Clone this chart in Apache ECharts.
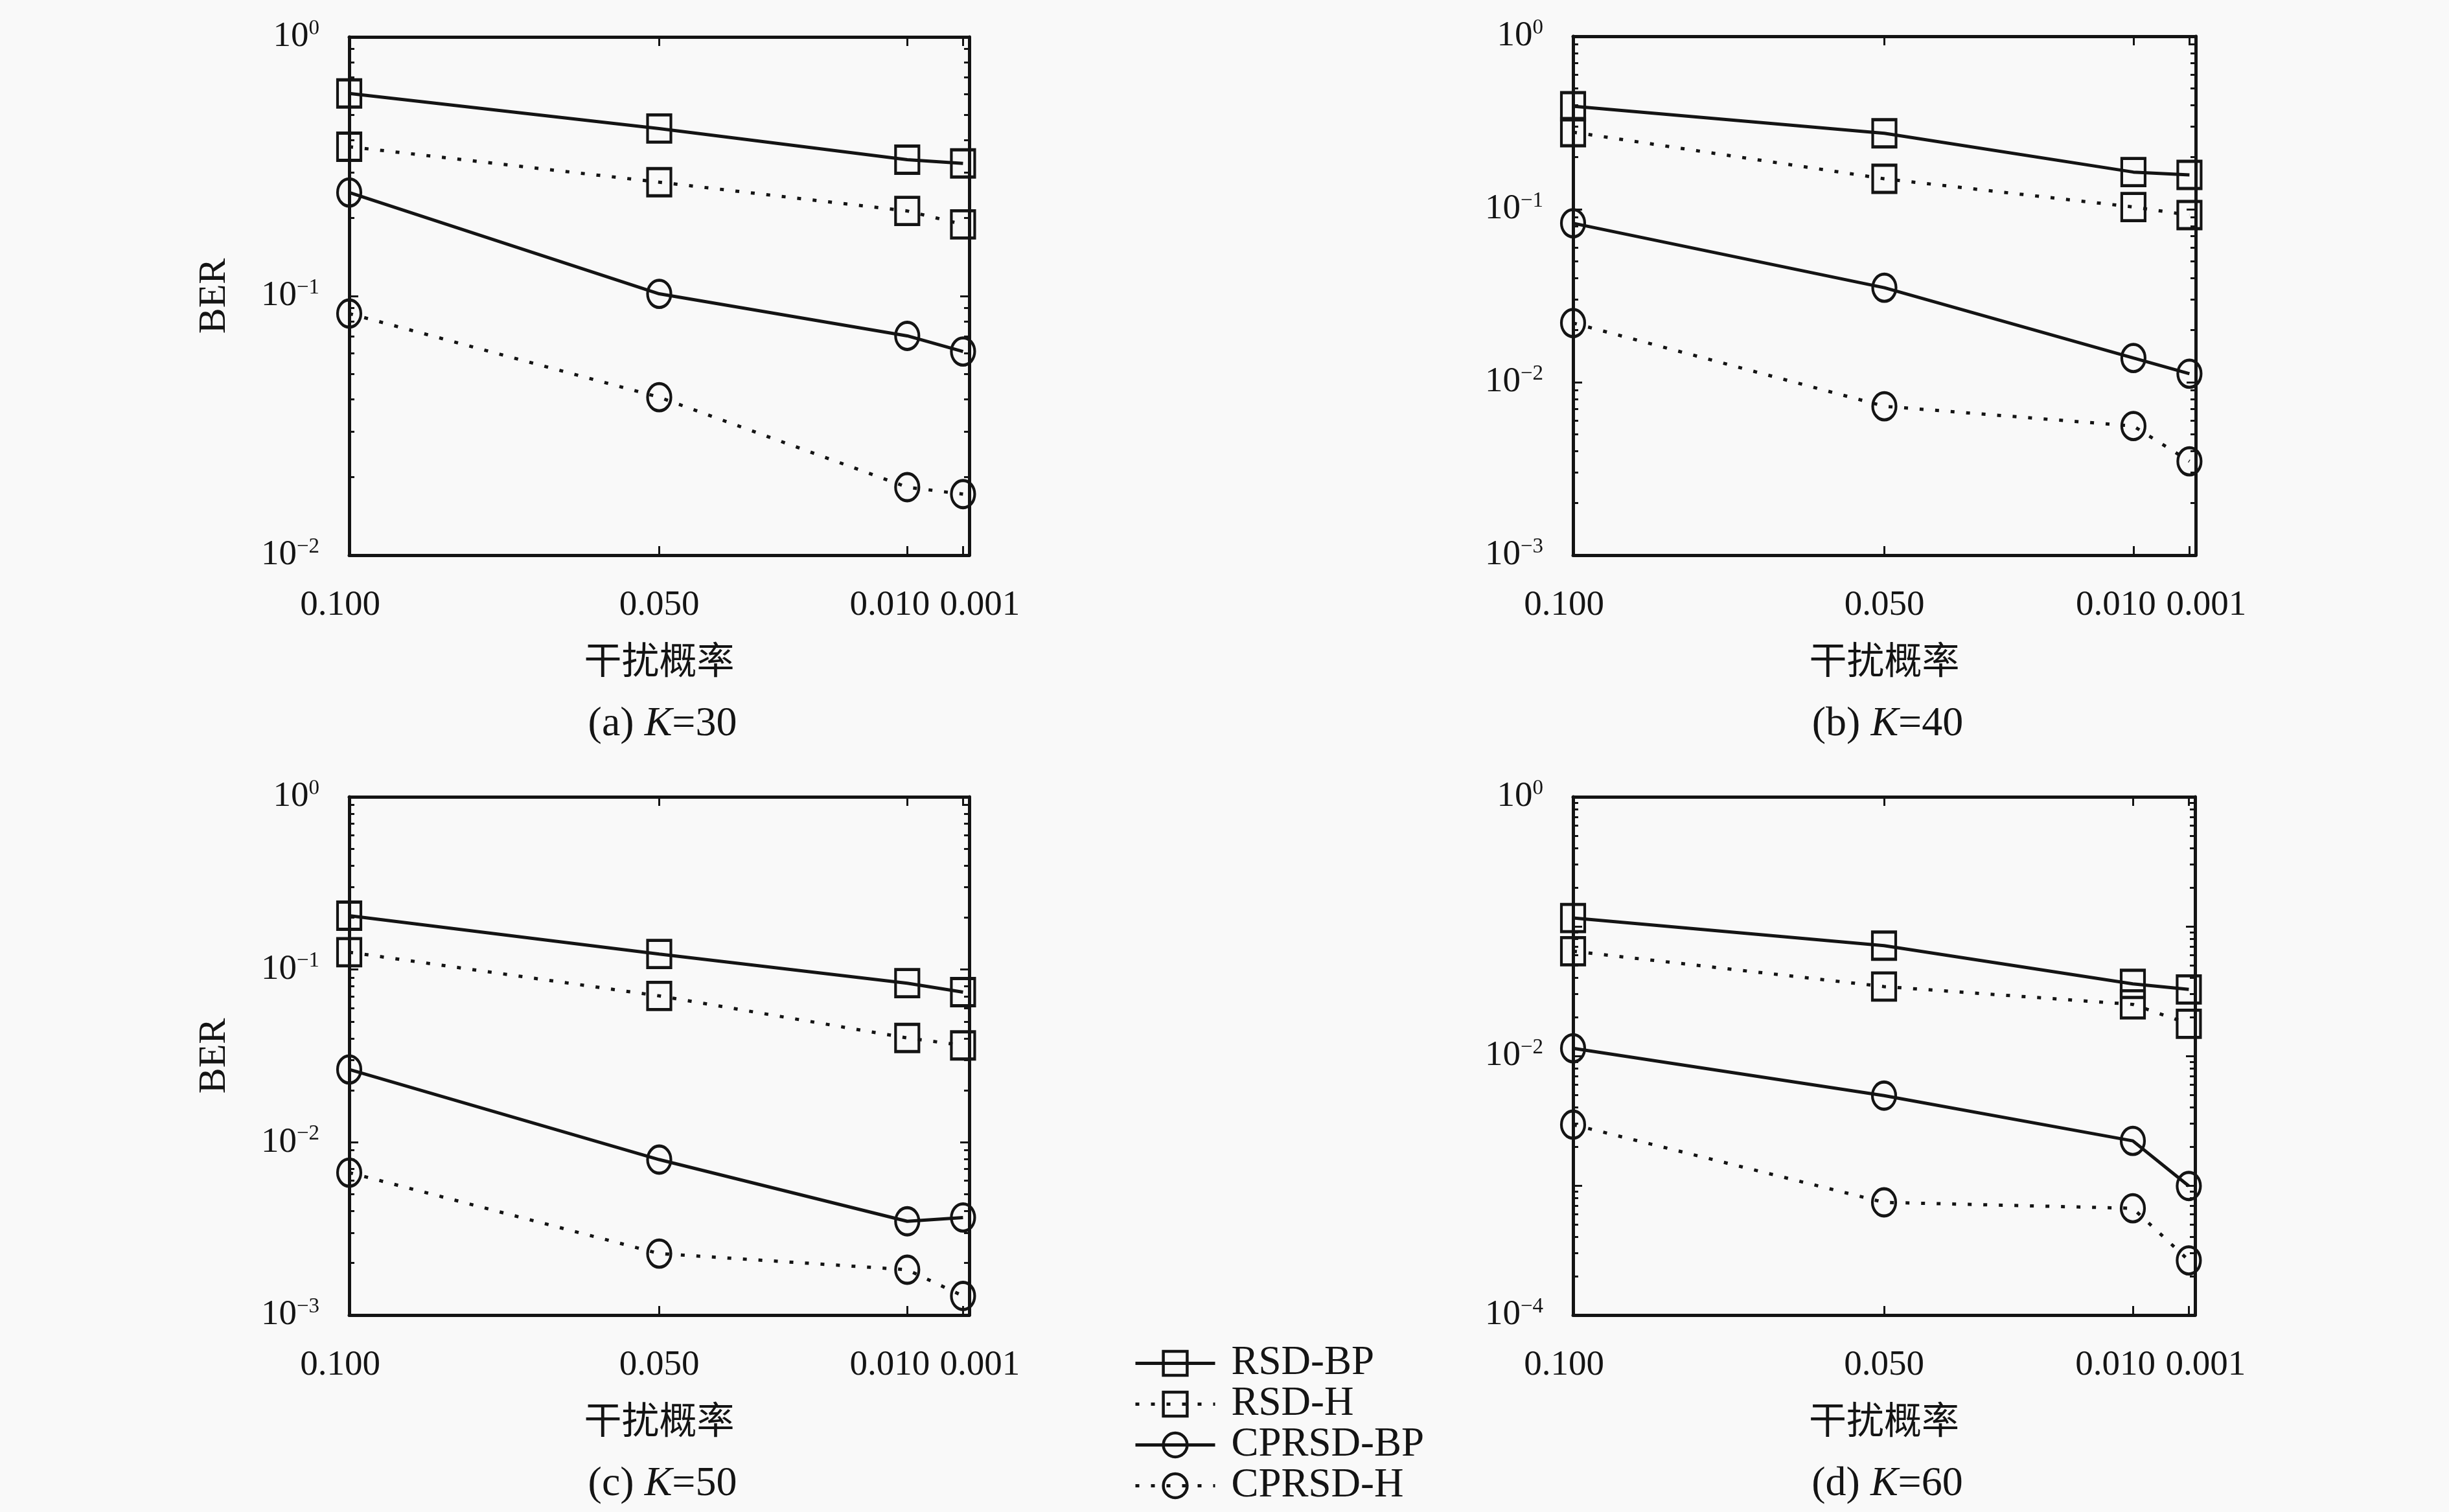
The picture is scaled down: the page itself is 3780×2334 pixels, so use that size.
<!DOCTYPE html>
<html>
<head>
<meta charset="utf-8">
<script src="https://cdn.jsdelivr.net/npm/echarts@6/dist/echarts.min.js"></script>
<style>
html,body{margin:0;padding:0;background:#f9f9f9;}
#main{width:3780px;height:2334px;}
</style>
</head>
<body>
<div id="main"></div>
<script>
// 干扰概率 (x) 与各方案的 BER
var probs = [0.1, 0.05, 0.01, 0.001];
var xTicks = [0.1, 0.05, 0.01, 0.001];
var names = ['RSD-BP', 'RSD-H', 'CPRSD-BP', 'CPRSD-H'];
var captions = ['(a) ', '(b) ', '(c) ', '(d) '];
var kValues = [30, 40, 50, 60];
var yMinExp = [-2, -3, -3, -4];

// K=30
var k30RsdBP = [0.605, 0.443, 0.336, 0.325];
var k30RsdH = [0.377, 0.275, 0.213, 0.189];
var k30CprsdBP = [0.251, 0.102, 0.0702, 0.0611];
var k30CprsdH = [0.0856, 0.0407, 0.0183, 0.0172];
// K=40
var k40RsdBP = [0.394, 0.275, 0.164, 0.158];
var k40RsdH = [0.279, 0.150, 0.103, 0.0925];
var k40CprsdBP = [0.0830, 0.0352, 0.0138, 0.0112];
var k40CprsdH = [0.0220, 0.00726, 0.00558, 0.00349];
// K=50
var k50RsdBP = [0.205, 0.123, 0.0834, 0.0740];
var k50RsdH = [0.126, 0.0704, 0.0402, 0.0364];
var k50CprsdBP = [0.0264, 0.00794, 0.00349, 0.00367];
var k50CprsdH = [0.00668, 0.00227, 0.00183, 0.00129];
// K=60
var k60RsdBP = [0.116, 0.0710, 0.0360, 0.0326];
var k60RsdH = [0.0643, 0.0343, 0.0250, 0.0177];
var k60CprsdBP = [0.01146, 0.00494, 0.00221, 0.000991];
var k60CprsdH = [0.00295, 0.000741, 0.000667, 0.000264];

var panelData = [
  [k30RsdBP, k30RsdH, k30CprsdBP, k30CprsdH],
  [k40RsdBP, k40RsdH, k40CprsdBP, k40CprsdH],
  [k50RsdBP, k50RsdH, k50CprsdBP, k50CprsdH],
  [k60RsdBP, k60RsdH, k60CprsdBP, k60CprsdH]
];

var FONT = 'Liberation Serif';
var INK = '#141414';
var boxes = [
  {left: 539, top: 57, width: 957, height: 800},
  {left: 2428, top: 56, width: 961, height: 801},
  {left: 539, top: 1230, width: 957, height: 800},
  {left: 2428, top: 1230, width: 960, height: 800}
];
var looks = [
  {symbol: 'rect', dash: 'solid'},
  {symbol: 'rect', dash: [6, 18]},
  {symbol: 'circle', dash: 'solid'},
  {symbol: 'circle', dash: [6, 18]}
];
// 标签位置微调 (与原图一致, 0.010 与 0.001 分开)
var xLabelPad = {0.1: [0, 28, 0, 0], 0.05: [0, 0, 0, 0], 0.01: [0, 54, 0, 0], 0.001: [0, 0, 0, 52]};

function decades(minExp) {
  var out = [];
  for (var e = 0; e >= minExp; e--) out.push(Math.pow(10, e));
  return out;
}
function minors(minExp) {
  var out = [];
  for (var e = minExp; e < 0; e++) {
    for (var m = 2; m <= 9; m++) out.push(m * Math.pow(10, e));
  }
  return out;
}
function expLabel(v) {
  var e = Math.round(Math.log(v) / Math.LN10);
  return '10{s|' + (e < 0 ? '\u2212' + (-e) : e) + '}';
}

var grids = [], xAxes = [], yAxes = [], series = [], titles = [];
var frame = {show: true, onZero: false, lineStyle: {color: INK, width: 5}};

boxes.forEach(function (b, i) {
  var minExp = yMinExp[i];
  var ymin = Math.pow(10, minExp);
  var labelVals = decades(minExp).filter(function (v) {
    var e = Math.round(Math.log(v) / Math.LN10);
    return minExp > -4 || e % 2 === 0;
  });
  var rich = {};
  xTicks.forEach(function (t, j) {
    rich['p' + j] = {fontFamily: FONT, fontSize: 55, color: INK, padding: xLabelPad[t]};
  });

  // main grid
  var g = grids.length;
  grids.push({left: b.left, top: b.top, width: b.width, height: b.height});
  var xi = xAxes.length;
  xAxes.push({
    gridIndex: g, type: 'value', min: 0, max: 0.1, inverse: true, position: 'bottom',
    axisLine: frame,
    axisTick: {show: true, inside: true, length: 14, customValues: xTicks, lineStyle: {color: INK, width: 3}},
    axisLabel: {
      show: true, margin: 50, customValues: xTicks,
      formatter: function (v) {
        var j = xTicks.indexOf(v);
        return '{p' + j + '|' + v.toFixed(3) + '}';
      },
      rich: rich
    },
    splitLine: {show: false},
    name: '干扰概率', nameLocation: 'middle', nameGap: 132,
    nameTextStyle: {fontFamily: 'Noto Sans CJK SC', fontSize: 58, color: INK}
  });
  xAxes.push({
    gridIndex: g, type: 'value', min: 0, max: 0.1, inverse: true, position: 'top',
    axisLine: frame,
    axisTick: {show: true, inside: true, length: 14, customValues: xTicks, lineStyle: {color: INK, width: 3}},
    axisLabel: {show: false}, splitLine: {show: false}
  });
  var yBase = {type: 'log', logBase: 10, min: ymin, max: 1, splitLine: {show: false}};
  var yi = yAxes.length;
  yAxes.push(Object.assign({}, yBase, {
    gridIndex: g, position: 'left',
    axisLine: frame,
    axisTick: {show: true, inside: true, length: 14, customValues: decades(minExp), lineStyle: {color: INK, width: 3}},
    axisLabel: {
      show: true, margin: 46, customValues: labelVals, formatter: expLabel,
      fontFamily: FONT, fontSize: 55, color: INK,
      rich: {s: {fontFamily: FONT, fontSize: 33, color: INK, padding: [0, 0, 26, 0]}}
    },
    name: (i % 2 === 0) ? 'BER' : '', nameLocation: 'middle', nameRotate: 90, nameGap: 178,
    nameTextStyle: {fontFamily: FONT, fontSize: 60, color: INK}
  }));
  yAxes.push(Object.assign({}, yBase, {
    gridIndex: g, position: 'right',
    axisLine: frame,
    axisTick: {show: true, inside: true, length: 14, customValues: decades(minExp), lineStyle: {color: INK, width: 3}},
    axisLabel: {show: false}
  }));

  // overlay grid for the minor log ticks
  var g2 = grids.length;
  grids.push({left: b.left, top: b.top, width: b.width, height: b.height});
  xAxes.push({gridIndex: g2, type: 'value', min: 0, max: 0.1, show: false});
  ['left', 'right'].forEach(function (pos) {
    yAxes.push(Object.assign({}, yBase, {
      gridIndex: g2, position: pos,
      axisLine: {show: false},
      axisTick: {show: true, inside: true, length: 8, customValues: minors(minExp), lineStyle: {color: INK, width: 3}},
      axisLabel: {show: false}
    }));
  });

  panelData[i].forEach(function (vals, s) {
    series.push({
      name: names[s], type: 'line', xAxisIndex: xi, yAxisIndex: yi,
      data: probs.map(function (p, j) { return [p, vals[j]]; }),
      symbol: looks[s].symbol, symbolSize: [36, 42], clip: false,
      showSymbol: true, animation: false,
      lineStyle: {color: INK, width: 5, type: looks[s].dash, cap: 'butt'},
      itemStyle: {color: 'rgba(0,0,0,0)', borderColor: INK, borderWidth: 4.5},
      emphasis: {disabled: true}
    });
  });

  titles.push({
    text: captions[i] + '{k|K}=' + kValues[i],
    left: b.left + b.width / 2, textAlign: 'center',
    top: b.top + b.height + 224,
    textStyle: {
      fontFamily: FONT, fontSize: 64, fontWeight: 'normal', color: INK,
      rich: {k: {fontFamily: FONT, fontSize: 64, fontStyle: 'italic', color: INK}}
    }
  });
});

var chart = echarts.init(document.getElementById('main'));
chart.setOption({
  backgroundColor: '#f9f9f9',
  animation: false,
  title: titles,
  grid: grids,
  xAxis: xAxes,
  yAxis: yAxes,
  legend: {
    data: names, orient: 'vertical', left: 1745, top: 2068, height: 400,
    itemWidth: 123, itemHeight: 46, itemGap: 0,
    lineStyle: {width: 5},
    itemStyle: {borderWidth: 4.5},
    textStyle: {fontFamily: FONT, fontSize: 63, color: INK, lineHeight: 40, padding: [0, 0, 0, 20]}
  },
  series: series
});
</script>
</body>
</html>
